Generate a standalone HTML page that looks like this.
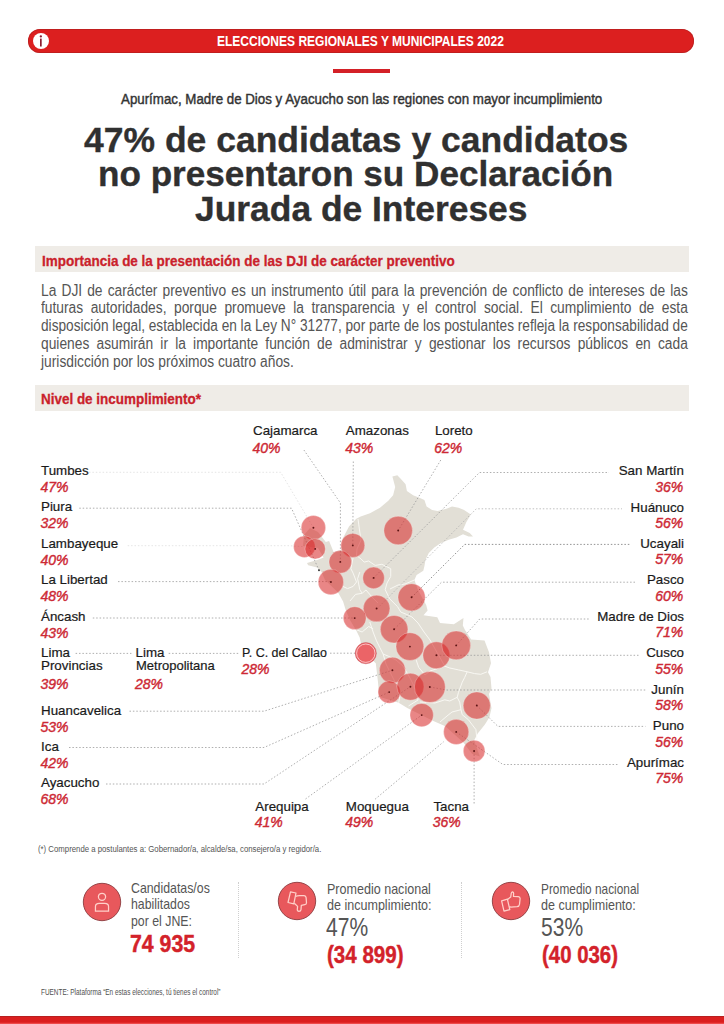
<!DOCTYPE html>
<html><head><meta charset="utf-8"><style>
html,body{margin:0;padding:0;background:#fff;}
body{width:724px;height:1024px;position:relative;overflow:hidden;font-family:"Liberation Sans", sans-serif;}
</style></head><body>
<div style="position:absolute;left:28px;top:29px;width:666px;height:24px;border-radius:12px;background:#dc1f1f;box-shadow:inset 0 0 0 0.8px rgba(170,32,32,0.7)"></div>
<div style="position:absolute;left:32.7px;top:32.8px;width:16.4px;height:16.4px;border-radius:50%;background:#fff"></div>
<svg style="position:absolute;left:0;top:0" width="60" height="60"><circle cx="40.85" cy="36.4" r="1.15" fill="#8e1c30"/><rect x="40.0" y="38.6" width="1.7" height="7.9" fill="#8e1c30"/></svg>
<div style="position:absolute;left:217.40px;top:34.23px;font-size:14.5px;line-height:14.5px;color:#fff;font-weight:bold;font-style:normal;white-space:nowrap;transform-origin:0 0;transform:scaleX(0.828);">ELECCIONES REGIONALES Y MUNICIPALES 2022</div>
<div style="position:absolute;left:333px;top:68.5px;width:57px;height:4.5px;background:#d42027"></div>
<div style="position:absolute;left:120.60px;top:91.18px;font-size:15.5px;line-height:15.5px;color:#333;font-weight:normal;font-style:normal;white-space:nowrap;transform-origin:0 0;transform:scaleX(0.8585444166963967);-webkit-text-stroke:0.45px #333;">Apurímac, Madre de Dios y Ayacucho son las regiones con mayor incumplimiento</div>
<div style="position:absolute;left:84.00px;top:122.42px;font-size:35.3px;line-height:35.3px;color:#303030;font-weight:bold;font-style:normal;white-space:nowrap;transform-origin:0 0;transform:scaleX(1.0053554939981533);-webkit-text-stroke:0.35px #303030;">47% de candidatas y candidatos</div>
<div style="position:absolute;left:97.80px;top:156.32px;font-size:35.3px;line-height:35.3px;color:#303030;font-weight:bold;font-style:normal;white-space:nowrap;transform-origin:0 0;transform:scaleX(0.9947866383471714);-webkit-text-stroke:0.35px #303030;">no presentaron su Declaración</div>
<div style="position:absolute;left:194.90px;top:191.02px;font-size:35.3px;line-height:35.3px;color:#303030;font-weight:bold;font-style:normal;white-space:nowrap;transform-origin:0 0;transform:scaleX(1.002714113389626);-webkit-text-stroke:0.35px #303030;">Jurada de Intereses</div>
<div style="position:absolute;left:34.5px;top:246px;width:654.7px;height:26px;background:#efece7"></div>
<div style="position:absolute;left:41.60px;top:252.80px;font-size:15px;line-height:15px;color:#ca212b;font-weight:bold;font-style:normal;white-space:nowrap;transform-origin:0 0;transform:scaleX(0.8985633434915107);-webkit-text-stroke:0.3px #ca212b;">Importancia de la presentación de las DJI de carácter preventivo</div>
<div style="position:absolute;left:41px;top:282.56px;width:750.7px;font-size:16px;line-height:16px;color:#555;text-align:justify;text-align-last:justify;white-space:nowrap;transform-origin:0 0;transform:scaleX(0.8616)">La DJI de carácter preventivo es un instrumento útil para la prevención de conflicto de intereses de las</div>
<div style="position:absolute;left:41px;top:300.46px;width:750.7px;font-size:16px;line-height:16px;color:#555;text-align:justify;text-align-last:justify;white-space:nowrap;transform-origin:0 0;transform:scaleX(0.8616)">futuras autoridades, porque promueve la transparencia y el control social. El cumplimiento de esta</div>
<div style="position:absolute;left:41px;top:318.26px;width:758.0px;font-size:16px;line-height:16px;color:#555;text-align:justify;text-align-last:justify;white-space:nowrap;transform-origin:0 0;transform:scaleX(0.8533)">disposición legal, establecida en la Ley N° 31277, por parte de los postulantes refleja la responsabilidad de</div>
<div style="position:absolute;left:41px;top:336.06px;width:750.7px;font-size:16px;line-height:16px;color:#555;text-align:justify;text-align-last:justify;white-space:nowrap;transform-origin:0 0;transform:scaleX(0.8616)">quienes asumirán ir la importante función de administrar y gestionar los recursos públicos en cada</div>
<div style="position:absolute;left:41.00px;top:353.86px;font-size:16px;line-height:16px;color:#555;font-weight:normal;font-style:normal;white-space:nowrap;transform-origin:0 0;transform:scaleX(0.8615625);">jurisdicción por los próximos cuatro años.</div>
<div style="position:absolute;left:35px;top:385.2px;width:654.2px;height:26px;background:#efece7"></div>
<div style="position:absolute;left:41.10px;top:390.60px;font-size:15px;line-height:15px;color:#ca212b;font-weight:bold;font-style:normal;white-space:nowrap;transform-origin:0 0;transform:scaleX(0.8968609865470851);-webkit-text-stroke:0.3px #ca212b;">Nivel de incumplimiento*</div>
<svg style="position:absolute;left:0;top:0" width="724" height="1024" viewBox="0 0 724 1024"><polygon fill="#e2dfd6" points="318,532 325.8,542 329.1,540.9 333.6,552 341.3,549.7 343,538 349,526.5 356.3,518.8 360.7,516.6 370,513.3 380,507.7 388.3,500.8 393.1,495.2 395.2,487 392.4,476.6 397.3,475.2 400.7,478.7 405.6,484.2 406.9,491.1 413.1,495.2 420,498 424.4,500 426.6,506.6 432.1,510 437.6,511 446.5,508.8 452,506.6 458.6,507.7 464.1,510 470.8,514.4 466.4,522.1 463,529.8 469.7,533.1 473,536.5 468.6,536.5 463,534.3 456.4,537.6 448.7,539.8 440.9,543.1 434.3,547.5 428.8,553 425.5,559.7 424.4,566.3 423.3,570.7 416.6,575.1 414.4,580 418,590 426.2,604.9 427.6,610.4 423.5,615.3 437.3,617.3 440,622.9 453.9,624.3 463.5,618 462.8,625.6 465,630 471.2,639.6 484.5,640.6 489,652.2 491,663.3 488,672.3 490.5,677 491.5,688.5 489,694 491.5,708.3 489.4,717.2 484.9,724.4 477.7,733.4 474.1,740.6 479.9,756.6 472.2,754 463.4,742.4 445.4,726.2 432.8,720.8 407.7,708.2 398.7,702.8 379.3,696.7 378,682.2 375.8,663.3 366,654 361,644 359.7,637.6 356.5,631.1 350,620 345.6,609.8 343.1,601.5 338.1,592.4 325,580 321.4,571.8 317,567.4 308.2,565.2 307,563 318,559.7 323.6,557.5 318,548 303,546 304,535 310,528"/><polyline fill="none" stroke="#fbfaf6" stroke-width="0.9" stroke-linejoin="round" points="358,519 359.5,530 361,540 357,549 356.5,555.5 360.9,558.8 364.2,562.1 368.6,561 371.9,563.2 375.2,565.4 381.9,564.3 386.3,566.5 390.7,568.7 390.7,576.5 387,583 385.2,589.7 389.7,598.8 397.5,606.6 400.8,612.1 406.3,614.3 412,617 418,623 424,632 430,640 444.8,666.2"/><polyline fill="none" stroke="#fbfaf6" stroke-width="0.9" stroke-linejoin="round" points="390,589 398,585 405,584 414.4,580"/><polyline fill="none" stroke="#fbfaf6" stroke-width="0.9" stroke-linejoin="round" points="353.1,557.7 350.9,568.7 353.1,573.1 356.5,582 353.1,586.4 347.6,588.6 342,586"/><polyline fill="none" stroke="#fbfaf6" stroke-width="0.9" stroke-linejoin="round" points="359.8,572 357.6,578.7 359.8,589.7 362,593"/><polyline fill="none" stroke="#fbfaf6" stroke-width="0.9" stroke-linejoin="round" points="350,601 355.5,594.4 362.1,593.3 366,590 372,597 378,603"/><polyline fill="none" stroke="#fbfaf6" stroke-width="0.9" stroke-linejoin="round" points="356.6,629.8 362.1,632 368.7,626.5 373.1,628.7"/><polyline fill="none" stroke="#fbfaf6" stroke-width="0.9" stroke-linejoin="round" points="369.8,622 373.1,632 376.5,640.8 379.8,647.5 383.1,654 388.6,656.3 396,660 403,666 410,678 416,690 418,700 408.5,706"/><polyline fill="none" stroke="#fbfaf6" stroke-width="0.9" stroke-linejoin="round" points="444.8,666.2 449.8,668 458.5,669.9 467.2,671.8 474.6,673.6 480.8,674.3 487,671.8"/><polyline fill="none" stroke="#fbfaf6" stroke-width="0.9" stroke-linejoin="round" points="467.2,671.8 464.7,677.4 462.2,682.3 458.5,692.3 457.2,697.3 459.7,702.2 461,709.7 462.2,714.7 468.4,719.7 472.1,724.6 475.9,729.6 477,740"/><polyline fill="none" stroke="#fbfaf6" stroke-width="0.9" stroke-linejoin="round" points="420,702 435,703 444.8,699.8 449.8,701 457.2,697.3"/><polyline fill="none" stroke="#fbfaf6" stroke-width="0.9" stroke-linejoin="round" points="416.2,660 418.7,667.4 425,675 430,671 444.8,666.2"/><polyline fill="none" stroke="#fbfaf6" stroke-width="0.9" stroke-linejoin="round" points="440,722 447,716 452,712 461,709.7"/><polyline fill="none" stroke="#fbfaf6" stroke-width="0.9" stroke-linejoin="round" points="398.7,702.8 400,695 396,684 392,676 386,664 383.1,654"/><polyline fill="none" stroke="#dedede" stroke-width="0.8" stroke-dasharray="1.5 1.9" points="89,472.3 280.7,472.3 313.4,527.7"/><polyline fill="none" stroke="#9a9a9a" stroke-width="0.8" stroke-dasharray="1.5 1.9" points="79.3,508.2 291.5,508.2 319,570.2"/><polyline fill="none" stroke="#dedede" stroke-width="0.8" stroke-dasharray="1.5 1.9" points="127.7,545.7 289,545.7 304.4,546.7"/><polyline fill="none" stroke="#9a9a9a" stroke-width="0.8" stroke-dasharray="1.5 1.9" points="118,581.6 330.9,581.6"/><polyline fill="none" stroke="#9a9a9a" stroke-width="0.8" stroke-dasharray="1.5 1.9" points="92.8,618 354.7,618"/><polyline fill="none" stroke="#9a9a9a" stroke-width="0.8" stroke-dasharray="1.5 1.9" points="75.6,653.4 131.4,653.4"/><polyline fill="none" stroke="#9a9a9a" stroke-width="0.8" stroke-dasharray="1.5 1.9" points="168.7,653.4 239.2,653.4"/><polyline fill="none" stroke="#9a9a9a" stroke-width="0.8" stroke-dasharray="1.5 1.9" points="330,653.2 355,653.2"/><polyline fill="none" stroke="#9a9a9a" stroke-width="0.8" stroke-dasharray="1.5 1.9" points="129.5,711.2 264,711.2 392.4,670.2"/><polyline fill="none" stroke="#9a9a9a" stroke-width="0.8" stroke-dasharray="1.5 1.9" points="69,747.5 264,747.5 389.2,692.1"/><polyline fill="none" stroke="#9a9a9a" stroke-width="0.8" stroke-dasharray="1.5 1.9" points="106,784 264,784 410.4,686.7"/><polyline fill="none" stroke="#9a9a9a" stroke-width="0.8" stroke-dasharray="1.5 1.9" points="303.9,450 340.4,503 340.4,561.9"/><polyline fill="none" stroke="#9a9a9a" stroke-width="0.8" stroke-dasharray="1.5 1.9" points="353.3,461.5 352.8,545.4"/><polyline fill="none" stroke="#9a9a9a" stroke-width="0.8" stroke-dasharray="1.5 1.9" points="440.8,460 398.2,530.5"/><polyline fill="none" stroke="#9a9a9a" stroke-width="0.8" stroke-dasharray="1.5 1.9" points="373.6,577.9 479.5,472.5 609,472.5"/><polyline fill="none" stroke="#b0b0b0" stroke-width="0.8" stroke-dasharray="1.5 1.9" points="377,608.7 476.3,508.8 622,508.8"/><polyline fill="none" stroke="#777" stroke-width="0.8" stroke-dasharray="1.5 1.9" points="411.7,597.3 464.7,544.4 631,544.4"/><polyline fill="none" stroke="#9a9a9a" stroke-width="0.8" stroke-dasharray="1.5 1.9" points="394.4,629 441.5,582.2 635.4,582.2"/><polyline fill="none" stroke="#9a9a9a" stroke-width="0.8" stroke-dasharray="1.5 1.9" points="456.2,645.4 479.7,619 589,619"/><polyline fill="none" stroke="#9a9a9a" stroke-width="0.8" stroke-dasharray="1.5 1.9" points="436.4,655.3 640.4,655.3"/><polyline fill="none" stroke="#9a9a9a" stroke-width="0.8" stroke-dasharray="1.5 1.9" points="429.8,687 446.5,690 645.4,690"/><polyline fill="none" stroke="#9a9a9a" stroke-width="0.8" stroke-dasharray="1.5 1.9" points="476.8,705.5 497.9,726.4 645.4,726.4"/><polyline fill="none" stroke="#9a9a9a" stroke-width="0.8" stroke-dasharray="1.5 1.9" points="456.2,731.9 502.9,764.5 618.9,764.5"/><polyline fill="none" stroke="#9a9a9a" stroke-width="0.8" stroke-dasharray="1.5 1.9" points="474.1,751 474.1,804.3"/><polyline fill="none" stroke="#9a9a9a" stroke-width="0.8" stroke-dasharray="1.5 1.9" points="305.5,799 421.7,715.1"/><polyline fill="none" stroke="#9a9a9a" stroke-width="0.8" stroke-dasharray="1.5 1.9" points="375.1,799.2 443.6,741.8"/><circle cx="313.4" cy="527.7" r="12.2" fill="rgb(215,40,40)" fill-opacity="0.56" stroke="#fff" stroke-opacity="0.35" stroke-width="0.8"/><circle cx="304.4" cy="546.7" r="10.8" fill="rgb(215,40,40)" fill-opacity="0.56" stroke="#fff" stroke-opacity="0.35" stroke-width="0.8"/><circle cx="315.2" cy="548.9" r="10.2" fill="rgb(215,40,40)" fill-opacity="0.56" stroke="#fff" stroke-opacity="0.35" stroke-width="0.8"/><circle cx="352.8" cy="545.4" r="12" fill="rgb(215,40,40)" fill-opacity="0.56" stroke="#fff" stroke-opacity="0.35" stroke-width="0.8"/><circle cx="340.3" cy="561.9" r="11.3" fill="rgb(215,40,40)" fill-opacity="0.56" stroke="#fff" stroke-opacity="0.35" stroke-width="0.8"/><circle cx="330.9" cy="582" r="12.7" fill="rgb(215,40,40)" fill-opacity="0.56" stroke="#fff" stroke-opacity="0.35" stroke-width="0.8"/><circle cx="398.2" cy="530.5" r="14.3" fill="rgb(215,40,40)" fill-opacity="0.56" stroke="#fff" stroke-opacity="0.35" stroke-width="0.8"/><circle cx="373.6" cy="577.9" r="10.8" fill="rgb(215,40,40)" fill-opacity="0.56" stroke="#fff" stroke-opacity="0.35" stroke-width="0.8"/><circle cx="411.6" cy="597.3" r="13.6" fill="rgb(215,40,40)" fill-opacity="0.56" stroke="#fff" stroke-opacity="0.35" stroke-width="0.8"/><circle cx="376.6" cy="608.5" r="13.3" fill="rgb(215,40,40)" fill-opacity="0.56" stroke="#fff" stroke-opacity="0.35" stroke-width="0.8"/><circle cx="354.7" cy="618.1" r="11.4" fill="rgb(215,40,40)" fill-opacity="0.56" stroke="#fff" stroke-opacity="0.35" stroke-width="0.8"/><circle cx="394.1" cy="629.2" r="13.8" fill="rgb(215,40,40)" fill-opacity="0.56" stroke="#fff" stroke-opacity="0.35" stroke-width="0.8"/><circle cx="409.9" cy="646.6" r="13.9" fill="rgb(215,40,40)" fill-opacity="0.56" stroke="#fff" stroke-opacity="0.35" stroke-width="0.8"/><circle cx="436.4" cy="655.3" r="13.5" fill="rgb(215,40,40)" fill-opacity="0.56" stroke="#fff" stroke-opacity="0.35" stroke-width="0.8"/><circle cx="456.2" cy="645.4" r="14.4" fill="rgb(215,40,40)" fill-opacity="0.56" stroke="#fff" stroke-opacity="0.35" stroke-width="0.8"/><circle cx="392.4" cy="670.2" r="13" fill="rgb(215,40,40)" fill-opacity="0.56" stroke="#fff" stroke-opacity="0.35" stroke-width="0.8"/><circle cx="389.2" cy="692.1" r="11.2" fill="rgb(215,40,40)" fill-opacity="0.56" stroke="#fff" stroke-opacity="0.35" stroke-width="0.8"/><circle cx="410.4" cy="686.7" r="13.5" fill="rgb(215,40,40)" fill-opacity="0.56" stroke="#fff" stroke-opacity="0.35" stroke-width="0.8"/><circle cx="429.8" cy="687" r="15.5" fill="rgb(215,40,40)" fill-opacity="0.56" stroke="#fff" stroke-opacity="0.35" stroke-width="0.8"/><circle cx="421.7" cy="715.1" r="11.7" fill="rgb(215,40,40)" fill-opacity="0.56" stroke="#fff" stroke-opacity="0.35" stroke-width="0.8"/><circle cx="476.8" cy="705.5" r="13.6" fill="rgb(215,40,40)" fill-opacity="0.56" stroke="#fff" stroke-opacity="0.35" stroke-width="0.8"/><circle cx="456.2" cy="731.9" r="12.6" fill="rgb(215,40,40)" fill-opacity="0.56" stroke="#fff" stroke-opacity="0.35" stroke-width="0.8"/><circle cx="474.1" cy="751" r="10.8" fill="rgb(215,40,40)" fill-opacity="0.56" stroke="#fff" stroke-opacity="0.35" stroke-width="0.8"/><circle cx="365.8" cy="653.2" r="10.6" fill="#eb6467" stroke="#b04048" stroke-opacity="0.5" stroke-width="0.7"/><circle cx="365.8" cy="653.2" r="9.2" fill="none" stroke="#ffd8d8" stroke-opacity="0.9" stroke-width="0.9"/><circle cx="313.4" cy="527.7" r="0.95" fill="#5c1414"/><circle cx="315.2" cy="548.9" r="0.95" fill="#5c1414"/><circle cx="352.8" cy="545.4" r="0.95" fill="#5c1414"/><circle cx="340.3" cy="561.9" r="0.95" fill="#5c1414"/><circle cx="330.9" cy="582" r="0.95" fill="#5c1414"/><circle cx="398.2" cy="530.5" r="0.95" fill="#5c1414"/><circle cx="373.6" cy="577.9" r="0.95" fill="#5c1414"/><circle cx="411.6" cy="597.3" r="0.95" fill="#5c1414"/><circle cx="376.6" cy="608.5" r="0.95" fill="#5c1414"/><circle cx="354.7" cy="618.1" r="0.95" fill="#5c1414"/><circle cx="394.1" cy="629.2" r="0.95" fill="#5c1414"/><circle cx="409.9" cy="646.6" r="0.95" fill="#5c1414"/><circle cx="436.4" cy="655.3" r="0.95" fill="#5c1414"/><circle cx="456.2" cy="645.4" r="0.95" fill="#5c1414"/><circle cx="392.4" cy="670.2" r="0.95" fill="#5c1414"/><circle cx="389.2" cy="692.1" r="0.95" fill="#5c1414"/><circle cx="410.4" cy="686.7" r="0.95" fill="#5c1414"/><circle cx="429.8" cy="687" r="0.95" fill="#5c1414"/><circle cx="421.7" cy="715.1" r="0.95" fill="#5c1414"/><circle cx="476.8" cy="705.5" r="0.95" fill="#5c1414"/><circle cx="456.2" cy="731.9" r="0.95" fill="#5c1414"/><circle cx="474.1" cy="751" r="0.95" fill="#5c1414"/><circle cx="319" cy="570.2" r="0.95" fill="#333"/></svg>
<div style="position:absolute;left:41.00px;top:464.20px;font-size:13.35px;line-height:13.35px;color:#1a1a1a;font-weight:normal;font-style:normal;white-space:nowrap;transform-origin:0 0;-webkit-text-stroke:0.2px #1a1a1a;">Tumbes</div>
<div style="position:absolute;left:40.40px;top:480.15px;font-size:14px;line-height:14px;color:#cd2935;font-weight:normal;font-style:italic;white-space:nowrap;transform-origin:0 0;-webkit-text-stroke:0.4px #cd2935;">47%</div>
<div style="position:absolute;left:41.00px;top:500.30px;font-size:13.35px;line-height:13.35px;color:#1a1a1a;font-weight:normal;font-style:normal;white-space:nowrap;transform-origin:0 0;-webkit-text-stroke:0.2px #1a1a1a;">Piura</div>
<div style="position:absolute;left:40.40px;top:516.25px;font-size:14px;line-height:14px;color:#cd2935;font-weight:normal;font-style:italic;white-space:nowrap;transform-origin:0 0;-webkit-text-stroke:0.4px #cd2935;">32%</div>
<div style="position:absolute;left:41.00px;top:536.70px;font-size:13.35px;line-height:13.35px;color:#1a1a1a;font-weight:normal;font-style:normal;white-space:nowrap;transform-origin:0 0;-webkit-text-stroke:0.2px #1a1a1a;">Lambayeque</div>
<div style="position:absolute;left:40.40px;top:552.65px;font-size:14px;line-height:14px;color:#cd2935;font-weight:normal;font-style:italic;white-space:nowrap;transform-origin:0 0;-webkit-text-stroke:0.4px #cd2935;">40%</div>
<div style="position:absolute;left:41.00px;top:572.80px;font-size:13.35px;line-height:13.35px;color:#1a1a1a;font-weight:normal;font-style:normal;white-space:nowrap;transform-origin:0 0;-webkit-text-stroke:0.2px #1a1a1a;">La Libertad</div>
<div style="position:absolute;left:40.40px;top:588.75px;font-size:14px;line-height:14px;color:#cd2935;font-weight:normal;font-style:italic;white-space:nowrap;transform-origin:0 0;-webkit-text-stroke:0.4px #cd2935;">48%</div>
<div style="position:absolute;left:41.00px;top:609.90px;font-size:13.35px;line-height:13.35px;color:#1a1a1a;font-weight:normal;font-style:normal;white-space:nowrap;transform-origin:0 0;-webkit-text-stroke:0.2px #1a1a1a;">Áncash</div>
<div style="position:absolute;left:40.40px;top:625.85px;font-size:14px;line-height:14px;color:#cd2935;font-weight:normal;font-style:italic;white-space:nowrap;transform-origin:0 0;-webkit-text-stroke:0.4px #cd2935;">43%</div>
<div style="position:absolute;left:41.00px;top:646.00px;font-size:13.35px;line-height:13.35px;color:#1a1a1a;font-weight:normal;font-style:normal;white-space:nowrap;transform-origin:0 0;-webkit-text-stroke:0.2px #1a1a1a;">Lima</div>
<div style="position:absolute;left:41.00px;top:659.40px;font-size:13.35px;line-height:13.35px;color:#1a1a1a;font-weight:normal;font-style:normal;white-space:nowrap;transform-origin:0 0;-webkit-text-stroke:0.2px #1a1a1a;">Provincias</div>
<div style="position:absolute;left:40.40px;top:677.15px;font-size:14px;line-height:14px;color:#cd2935;font-weight:normal;font-style:italic;white-space:nowrap;transform-origin:0 0;-webkit-text-stroke:0.4px #cd2935;">39%</div>
<div style="position:absolute;left:135.60px;top:646.00px;font-size:13.35px;line-height:13.35px;color:#1a1a1a;font-weight:normal;font-style:normal;white-space:nowrap;transform-origin:0 0;-webkit-text-stroke:0.2px #1a1a1a;">Lima</div>
<div style="position:absolute;left:135.60px;top:659.40px;font-size:13.35px;line-height:13.35px;color:#1a1a1a;font-weight:normal;font-style:normal;white-space:nowrap;transform-origin:0 0;transform:scaleX(0.974);-webkit-text-stroke:0.2px #1a1a1a;">Metropolitana</div>
<div style="position:absolute;left:135.00px;top:677.15px;font-size:14px;line-height:14px;color:#cd2935;font-weight:normal;font-style:italic;white-space:nowrap;transform-origin:0 0;-webkit-text-stroke:0.4px #cd2935;">28%</div>
<div style="position:absolute;left:242.10px;top:646.40px;font-size:13.35px;line-height:13.35px;color:#1a1a1a;font-weight:normal;font-style:normal;white-space:nowrap;transform-origin:0 0;transform:scaleX(0.934);-webkit-text-stroke:0.2px #1a1a1a;">P. C. del Callao</div>
<div style="position:absolute;left:241.50px;top:662.45px;font-size:14px;line-height:14px;color:#cd2935;font-weight:normal;font-style:italic;white-space:nowrap;transform-origin:0 0;-webkit-text-stroke:0.4px #cd2935;">28%</div>
<div style="position:absolute;left:41.00px;top:703.60px;font-size:13.35px;line-height:13.35px;color:#1a1a1a;font-weight:normal;font-style:normal;white-space:nowrap;transform-origin:0 0;-webkit-text-stroke:0.2px #1a1a1a;">Huancavelica</div>
<div style="position:absolute;left:40.40px;top:719.55px;font-size:14px;line-height:14px;color:#cd2935;font-weight:normal;font-style:italic;white-space:nowrap;transform-origin:0 0;-webkit-text-stroke:0.4px #cd2935;">53%</div>
<div style="position:absolute;left:41.00px;top:739.70px;font-size:13.35px;line-height:13.35px;color:#1a1a1a;font-weight:normal;font-style:normal;white-space:nowrap;transform-origin:0 0;-webkit-text-stroke:0.2px #1a1a1a;">Ica</div>
<div style="position:absolute;left:40.40px;top:755.65px;font-size:14px;line-height:14px;color:#cd2935;font-weight:normal;font-style:italic;white-space:nowrap;transform-origin:0 0;-webkit-text-stroke:0.4px #cd2935;">42%</div>
<div style="position:absolute;left:41.00px;top:775.70px;font-size:13.35px;line-height:13.35px;color:#1a1a1a;font-weight:normal;font-style:normal;white-space:nowrap;transform-origin:0 0;-webkit-text-stroke:0.2px #1a1a1a;">Ayacucho</div>
<div style="position:absolute;left:40.40px;top:791.65px;font-size:14px;line-height:14px;color:#cd2935;font-weight:normal;font-style:italic;white-space:nowrap;transform-origin:0 0;-webkit-text-stroke:0.4px #cd2935;">68%</div>
<div style="position:absolute;left:253.00px;top:424.40px;font-size:13.35px;line-height:13.35px;color:#1a1a1a;font-weight:normal;font-style:normal;white-space:nowrap;transform-origin:0 0;-webkit-text-stroke:0.2px #1a1a1a;">Cajamarca</div>
<div style="position:absolute;left:252.40px;top:440.95px;font-size:14px;line-height:14px;color:#cd2935;font-weight:normal;font-style:italic;white-space:nowrap;transform-origin:0 0;-webkit-text-stroke:0.4px #cd2935;">40%</div>
<div style="position:absolute;left:345.80px;top:424.40px;font-size:13.35px;line-height:13.35px;color:#1a1a1a;font-weight:normal;font-style:normal;white-space:nowrap;transform-origin:0 0;-webkit-text-stroke:0.2px #1a1a1a;">Amazonas</div>
<div style="position:absolute;left:345.20px;top:440.95px;font-size:14px;line-height:14px;color:#cd2935;font-weight:normal;font-style:italic;white-space:nowrap;transform-origin:0 0;-webkit-text-stroke:0.4px #cd2935;">43%</div>
<div style="position:absolute;left:434.90px;top:424.40px;font-size:13.35px;line-height:13.35px;color:#1a1a1a;font-weight:normal;font-style:normal;white-space:nowrap;transform-origin:0 0;-webkit-text-stroke:0.2px #1a1a1a;">Loreto</div>
<div style="position:absolute;left:434.30px;top:440.95px;font-size:14px;line-height:14px;color:#cd2935;font-weight:normal;font-style:italic;white-space:nowrap;transform-origin:0 0;-webkit-text-stroke:0.4px #cd2935;">62%</div>
<div style="position:absolute;left:255.30px;top:799.90px;font-size:13.35px;line-height:13.35px;color:#1a1a1a;font-weight:normal;font-style:normal;white-space:nowrap;transform-origin:0 0;-webkit-text-stroke:0.2px #1a1a1a;">Arequipa</div>
<div style="position:absolute;left:254.70px;top:815.45px;font-size:14px;line-height:14px;color:#cd2935;font-weight:normal;font-style:italic;white-space:nowrap;transform-origin:0 0;-webkit-text-stroke:0.4px #cd2935;">41%</div>
<div style="position:absolute;left:345.80px;top:799.90px;font-size:13.35px;line-height:13.35px;color:#1a1a1a;font-weight:normal;font-style:normal;white-space:nowrap;transform-origin:0 0;-webkit-text-stroke:0.2px #1a1a1a;">Moquegua</div>
<div style="position:absolute;left:345.20px;top:815.45px;font-size:14px;line-height:14px;color:#cd2935;font-weight:normal;font-style:italic;white-space:nowrap;transform-origin:0 0;-webkit-text-stroke:0.4px #cd2935;">49%</div>
<div style="position:absolute;left:433.40px;top:799.90px;font-size:13.35px;line-height:13.35px;color:#1a1a1a;font-weight:normal;font-style:normal;white-space:nowrap;transform-origin:0 0;-webkit-text-stroke:0.2px #1a1a1a;">Tacna</div>
<div style="position:absolute;left:432.80px;top:815.45px;font-size:14px;line-height:14px;color:#cd2935;font-weight:normal;font-style:italic;white-space:nowrap;transform-origin:0 0;-webkit-text-stroke:0.4px #cd2935;">36%</div>
<div style="position:absolute;right:40.00px;top:464.40px;font-size:13.35px;line-height:13.35px;color:#1a1a1a;font-weight:normal;font-style:normal;white-space:nowrap;transform-origin:100% 0;-webkit-text-stroke:0.2px #1a1a1a;">San Martín</div>
<div style="position:absolute;right:40.80px;top:480.15px;font-size:14px;line-height:14px;color:#cd2935;font-weight:normal;font-style:italic;white-space:nowrap;transform-origin:100% 0;-webkit-text-stroke:0.4px #cd2935;">36%</div>
<div style="position:absolute;right:40.00px;top:500.60px;font-size:13.35px;line-height:13.35px;color:#1a1a1a;font-weight:normal;font-style:normal;white-space:nowrap;transform-origin:100% 0;-webkit-text-stroke:0.2px #1a1a1a;">Huánuco</div>
<div style="position:absolute;right:40.80px;top:516.35px;font-size:14px;line-height:14px;color:#cd2935;font-weight:normal;font-style:italic;white-space:nowrap;transform-origin:100% 0;-webkit-text-stroke:0.4px #cd2935;">56%</div>
<div style="position:absolute;right:40.00px;top:536.50px;font-size:13.35px;line-height:13.35px;color:#1a1a1a;font-weight:normal;font-style:normal;white-space:nowrap;transform-origin:100% 0;-webkit-text-stroke:0.2px #1a1a1a;">Ucayali</div>
<div style="position:absolute;right:40.80px;top:552.25px;font-size:14px;line-height:14px;color:#cd2935;font-weight:normal;font-style:italic;white-space:nowrap;transform-origin:100% 0;-webkit-text-stroke:0.4px #cd2935;">57%</div>
<div style="position:absolute;right:40.00px;top:573.30px;font-size:13.35px;line-height:13.35px;color:#1a1a1a;font-weight:normal;font-style:normal;white-space:nowrap;transform-origin:100% 0;-webkit-text-stroke:0.2px #1a1a1a;">Pasco</div>
<div style="position:absolute;right:40.80px;top:589.05px;font-size:14px;line-height:14px;color:#cd2935;font-weight:normal;font-style:italic;white-space:nowrap;transform-origin:100% 0;-webkit-text-stroke:0.4px #cd2935;">60%</div>
<div style="position:absolute;right:40.00px;top:609.70px;font-size:13.35px;line-height:13.35px;color:#1a1a1a;font-weight:normal;font-style:normal;white-space:nowrap;transform-origin:100% 0;-webkit-text-stroke:0.2px #1a1a1a;">Madre de Dios</div>
<div style="position:absolute;right:40.80px;top:625.45px;font-size:14px;line-height:14px;color:#cd2935;font-weight:normal;font-style:italic;white-space:nowrap;transform-origin:100% 0;-webkit-text-stroke:0.4px #cd2935;">71%</div>
<div style="position:absolute;right:40.00px;top:646.20px;font-size:13.35px;line-height:13.35px;color:#1a1a1a;font-weight:normal;font-style:normal;white-space:nowrap;transform-origin:100% 0;-webkit-text-stroke:0.2px #1a1a1a;">Cusco</div>
<div style="position:absolute;right:40.80px;top:661.95px;font-size:14px;line-height:14px;color:#cd2935;font-weight:normal;font-style:italic;white-space:nowrap;transform-origin:100% 0;-webkit-text-stroke:0.4px #cd2935;">55%</div>
<div style="position:absolute;right:40.00px;top:682.70px;font-size:13.35px;line-height:13.35px;color:#1a1a1a;font-weight:normal;font-style:normal;white-space:nowrap;transform-origin:100% 0;-webkit-text-stroke:0.2px #1a1a1a;">Junín</div>
<div style="position:absolute;right:40.80px;top:698.45px;font-size:14px;line-height:14px;color:#cd2935;font-weight:normal;font-style:italic;white-space:nowrap;transform-origin:100% 0;-webkit-text-stroke:0.4px #cd2935;">58%</div>
<div style="position:absolute;right:40.00px;top:719.20px;font-size:13.35px;line-height:13.35px;color:#1a1a1a;font-weight:normal;font-style:normal;white-space:nowrap;transform-origin:100% 0;-webkit-text-stroke:0.2px #1a1a1a;">Puno</div>
<div style="position:absolute;right:40.80px;top:734.95px;font-size:14px;line-height:14px;color:#cd2935;font-weight:normal;font-style:italic;white-space:nowrap;transform-origin:100% 0;-webkit-text-stroke:0.4px #cd2935;">56%</div>
<div style="position:absolute;right:40.00px;top:755.70px;font-size:13.35px;line-height:13.35px;color:#1a1a1a;font-weight:normal;font-style:normal;white-space:nowrap;transform-origin:100% 0;-webkit-text-stroke:0.2px #1a1a1a;">Apurímac</div>
<div style="position:absolute;right:40.80px;top:771.45px;font-size:14px;line-height:14px;color:#cd2935;font-weight:normal;font-style:italic;white-space:nowrap;transform-origin:100% 0;-webkit-text-stroke:0.4px #cd2935;">75%</div>
<div style="position:absolute;left:37.60px;top:844.07px;font-size:9.6px;line-height:9.6px;color:#555;font-weight:normal;font-style:normal;white-space:nowrap;transform-origin:0 0;transform:scaleX(0.8111587982832618);">(*) Comprende a postulantes a: Gobernador/a, alcalde/sa, consejero/a y regidor/a.</div>
<svg style="position:absolute;left:81.8px;top:881.5px" width="40" height="40" viewBox="0 0 40 40"><circle cx="20" cy="20" r="18.7" fill="#e8585c" stroke="#8c3c40" stroke-width="0.9"/><g fill="none" stroke="#ffd0c9" stroke-width="1.25"><circle cx="20" cy="14.85" r="3.6"/><path d="M13.45 29.05 V24.6 Q13.45 21.45 17.2 21.45 H22.8 Q26.55 21.45 26.55 24.6 V29.05 Z"/></g></svg>
<svg style="position:absolute;left:276.8px;top:881.2px" width="40" height="40" viewBox="0 0 40 40"><circle cx="20" cy="20" r="18.7" fill="#e8585c" stroke="#8c3c40" stroke-width="0.9"/><g fill="none" stroke="#ffd0c9" stroke-width="1.25" stroke-linejoin="round"><path d="M13.5 10.8 L19 12 L16.8 22.8 L11 21.5 Z"/><path d="M18.6 15.4 Q20.5 14.6 23 14.7 L27.1 14.6 Q28.9 14.8 29.1 16.6 L29.5 21.8 Q29.5 23.5 27.8 23.7 L24.3 24.4 L24 28.6 Q23.8 30.3 22 30.3 Q20.2 30.2 20.3 28.5 L20.6 25.4 L17.3 22.2"/></g></svg>
<svg style="position:absolute;left:491.4px;top:881.2px" width="40" height="40" viewBox="0 0 40 40"><circle cx="20" cy="20" r="18.7" fill="#e8585c" stroke="#8c3c40" stroke-width="0.9"/><g fill="none" stroke="#ffd0c9" stroke-width="1.25" stroke-linejoin="round"><path d="M10.6 19.9 L16.4 18.2 L18.8 28.6 L13 30.2 Z"/><path d="M16.4 18.5 L19.7 16.1 L20.3 12.2 Q20.7 10.8 21.6 10.9 Q22.7 11.2 22.6 12.6 L22.5 15.4 L27.3 15.7 Q29.3 16 29.1 17.8 L28.5 23.4 Q28.2 25.5 26 25.7 L19.9 26.1 L18.3 25.6"/></g></svg>
<div style="position:absolute;left:130.90px;top:881.43px;font-size:14.5px;line-height:14.5px;color:#555;font-weight:normal;font-style:normal;white-space:nowrap;transform-origin:0 0;transform:scaleX(0.8500539374325782);">Candidatas/os</div>
<div style="position:absolute;left:130.90px;top:897.43px;font-size:14.5px;line-height:14.5px;color:#555;font-weight:normal;font-style:normal;white-space:nowrap;transform-origin:0 0;transform:scaleX(0.85);">habilitados</div>
<div style="position:absolute;left:130.90px;top:914.23px;font-size:14.5px;line-height:14.5px;color:#555;font-weight:normal;font-style:normal;white-space:nowrap;transform-origin:0 0;transform:scaleX(0.85);">por el JNE:</div>
<div style="position:absolute;left:130.10px;top:932.48px;font-size:24px;line-height:24px;color:#d3222a;font-weight:bold;font-style:normal;white-space:nowrap;transform-origin:0 0;transform:scaleX(0.8870748299319728);-webkit-text-stroke:0.45px #d3222a;">74 935</div>
<div style="position:absolute;left:326.90px;top:881.93px;font-size:14.5px;line-height:14.5px;color:#555;font-weight:normal;font-style:normal;white-space:nowrap;transform-origin:0 0;transform:scaleX(0.8651124063280601);">Promedio nacional</div>
<div style="position:absolute;left:326.90px;top:897.83px;font-size:14.5px;line-height:14.5px;color:#555;font-weight:normal;font-style:normal;white-space:nowrap;transform-origin:0 0;transform:scaleX(0.865);">de incumplimiento:</div>
<div style="position:absolute;left:326.30px;top:915.01px;font-size:25.5px;line-height:25.5px;color:#555;font-weight:normal;font-style:normal;white-space:nowrap;transform-origin:0 0;transform:scaleX(0.825);">47%</div>
<div style="position:absolute;left:327.00px;top:942.88px;font-size:24px;line-height:24px;color:#d3222a;font-weight:bold;font-style:normal;white-space:nowrap;transform-origin:0 0;transform:scaleX(0.8568232662192392);-webkit-text-stroke:0.45px #d3222a;">(34 899)</div>
<div style="position:absolute;left:541.30px;top:881.93px;font-size:14.5px;line-height:14.5px;color:#555;font-weight:normal;font-style:normal;white-space:nowrap;transform-origin:0 0;transform:scaleX(0.8168193172356369);">Promedio nacional</div>
<div style="position:absolute;left:541.30px;top:897.83px;font-size:14.5px;line-height:14.5px;color:#555;font-weight:normal;font-style:normal;white-space:nowrap;transform-origin:0 0;transform:scaleX(0.865);">de cumplimiento:</div>
<div style="position:absolute;left:540.80px;top:915.01px;font-size:25.5px;line-height:25.5px;color:#555;font-weight:normal;font-style:normal;white-space:nowrap;transform-origin:0 0;transform:scaleX(0.825);">53%</div>
<div style="position:absolute;left:541.50px;top:942.88px;font-size:24px;line-height:24px;color:#d3222a;font-weight:bold;font-style:normal;white-space:nowrap;transform-origin:0 0;transform:scaleX(0.85);-webkit-text-stroke:0.45px #d3222a;">(40 036)</div>
<div style="position:absolute;left:238.1px;top:881.7px;width:0;height:76.7px;border-left:1.2px dotted #cfcfcf"></div>
<div style="position:absolute;left:461.4px;top:881.7px;width:0;height:76.7px;border-left:1.2px dotted #cfcfcf"></div>
<div style="position:absolute;left:41.20px;top:988.15px;font-size:8.8px;line-height:8.8px;color:#505050;font-weight:normal;font-style:normal;white-space:nowrap;transform-origin:0 0;transform:scaleX(0.7311608961303462);">FUENTE: Plataforma “En estas elecciones, tú tienes el control”</div>
<div style="position:absolute;left:0;top:1015.6px;width:724px;height:8.4px;background:#db1f1f;box-shadow:inset 0 0.9px 0 rgba(170,32,32,0.7), inset 0 -1.2px 0 #ee4a4a"></div>
</body></html>
